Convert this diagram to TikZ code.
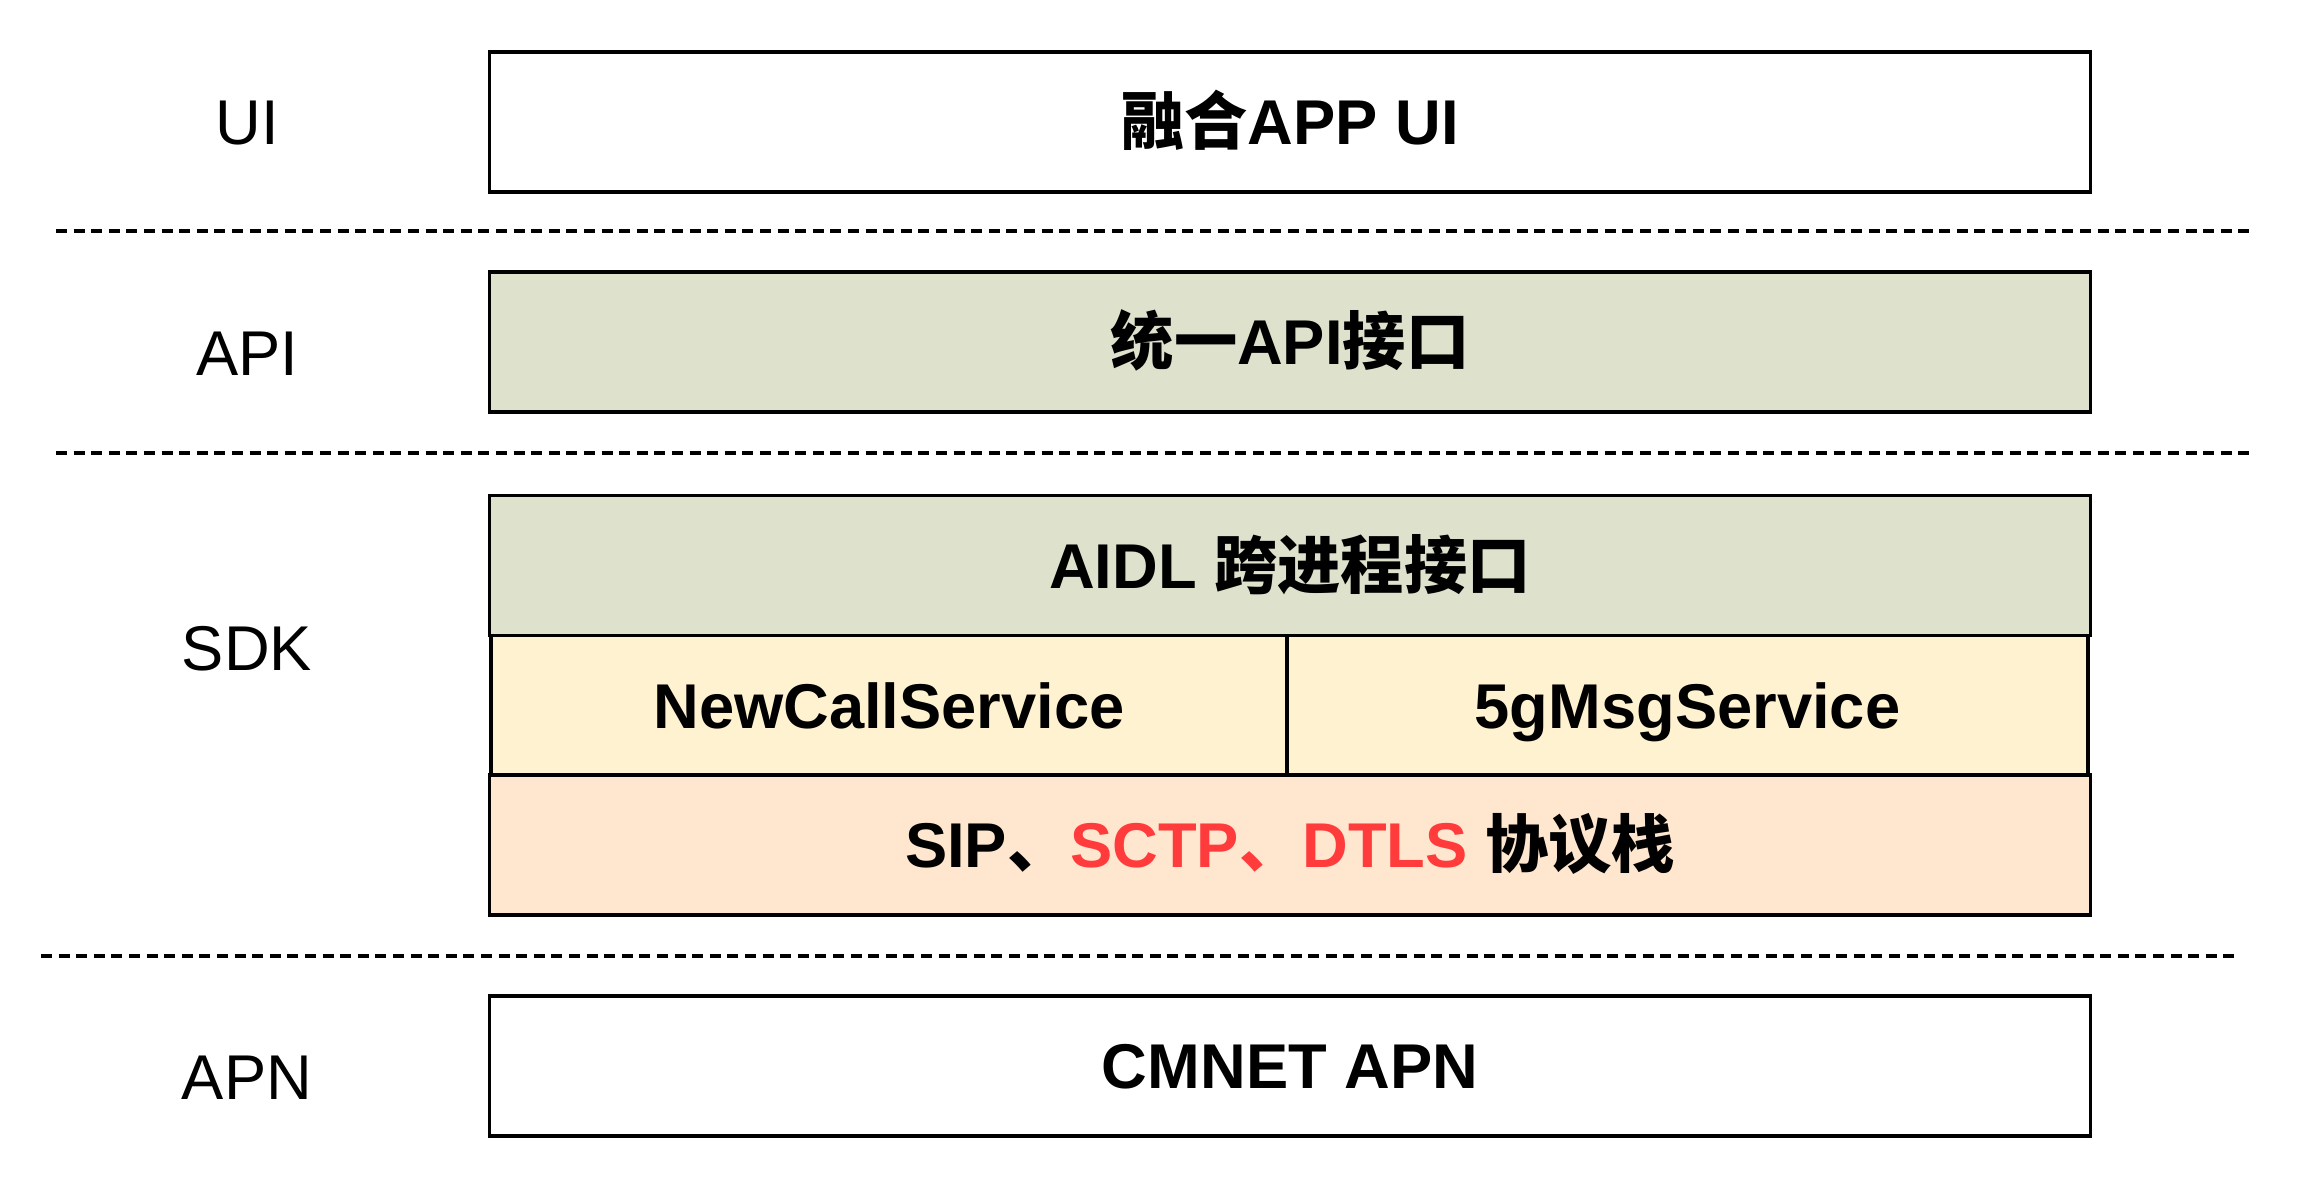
\documentclass[tikz,border=0pt]{standalone}
\usepackage{fontspec}
\setmainfont{Liberation Sans}
\newfontfamily\cjk{Noto Sans CJK SC}
\usetikzlibrary{positioning}

\definecolor{apigreen}{HTML}{DEE2CC}
\definecolor{svcyellow}{HTML}{FFF2D1}
\definecolor{stackpeach}{HTML}{FFE6CE}
\definecolor{protored}{HTML}{FF3B3B}

\begin{document}
\begin{tikzpicture}[
  every node/.style = {align=center, inner sep=0pt, text height=12.9pt, text depth=0pt},
   layer/.style = {shape=rectangle, draw, line width=0.9pt,
                   minimum width=16.01cm, minimum height=1.40cm,
                   font=\fontsize{18}{22}\selectfont\bfseries},
   tag/.style = {font=\fontsize{18}{22}\selectfont},
   sep/.style = {line width=1pt, dash pattern=on 0.11cm off 0.066cm}
    ]
  \useasboundingbox (0,0) rectangle (23.04,12);
  % layers
  \node[layer] (ui) at (12.9,10.78) {{\cjk 融合}APP UI};
  \node[layer, fill=apigreen] (api) at (12.9,8.58) {{\cjk 统一}API{\cjk 接口}};
  \node[layer, fill=apigreen] (aidl) at (12.9,6.345) {AIDL {\cjk 跨进程接口}};
  \node[layer, fill=svcyellow, minimum width=7.96cm] (newcall) at (8.89,4.945) {NewCallService};
  \node[layer, fill=svcyellow, minimum width=8.01cm] (msg) at (16.875,4.945) {5gMsgService};
  \node[layer, fill=stackpeach] (sip) at (12.9,3.55)
    {SIP{\cjk 、}\textcolor{protored}{SCTP{\cjk 、}DTLS} {\cjk 协议栈}};
  \node[layer] (apn) at (12.9,1.34) {CMNET APN};
  % tags
  \node[tag] (tui) at (2.47,10.78) {UI};
  \node[tag] (tapi) at (2.47,8.47) {API};
  \node[tag] (tsdk) at (2.47,5.52) {SDK};
  \node[tag] (tapn) at (2.47,1.23) {APN};
  % separators
  \draw[sep] (0.56,9.69) -- (22.53,9.69);
  \draw[sep] (0.56,7.47) -- (22.53,7.47);
  \draw[sep] (0.41,2.44) -- (22.38,2.44);
\end{tikzpicture}
\end{document}
